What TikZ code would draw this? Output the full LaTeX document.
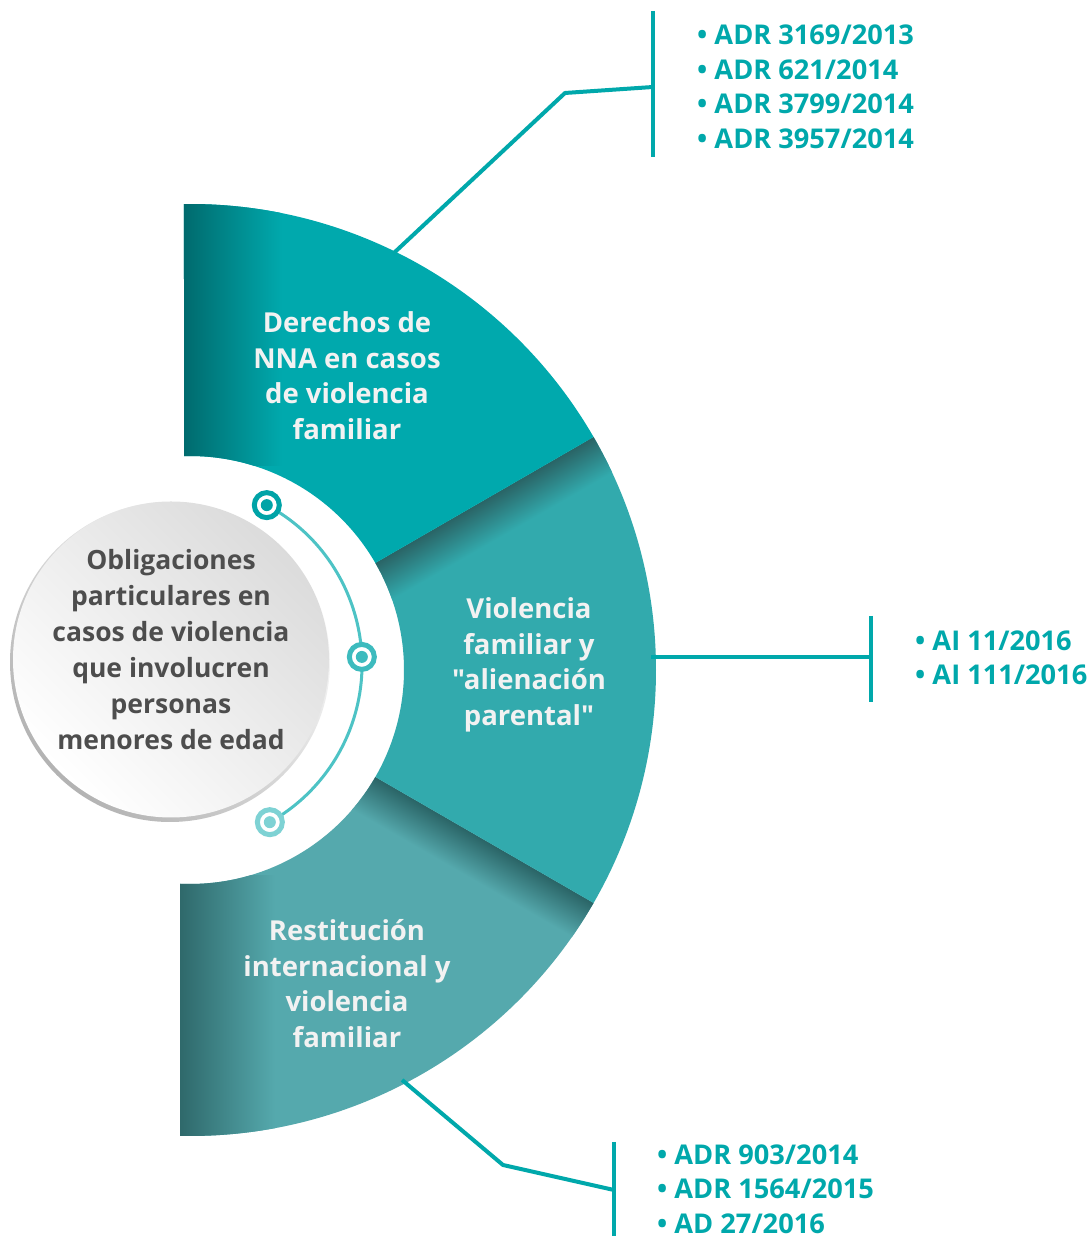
\documentclass[tikz,border=0pt]{standalone}
\usepackage{fontspec}
\newfontfamily\osans{Open Sans}
\usetikzlibrary{calc}

\definecolor{tealA}{HTML}{00A9AD}
\definecolor{tealAdark}{HTML}{006A6D}
\definecolor{tealB}{HTML}{32AAAD}
\definecolor{tealC}{HTML}{55A9AD}
\definecolor{tealCdark}{HTML}{2F696B}
\definecolor{shadowcol}{HTML}{2A6466}
\definecolor{linecol}{HTML}{00A8AB}
\definecolor{dotA}{HTML}{00A3A7}
\definecolor{dotB}{HTML}{3DBBBE}
\definecolor{dotC}{HTML}{7ED2D4}
\definecolor{arccol}{HTML}{4DC3C5}
\definecolor{labelcol}{HTML}{F2F2F2}
\definecolor{coretext}{HTML}{4D4D4D}

% ring geometry: centre (190,566), outer radius 466, inner radius 214
\def\topsector{($(190,566)+(90.74:466)$) arc[start angle=90.74, end angle=30, radius=466]
  -- ($(190,566)+(30:214)$) arc[start angle=30, end angle=91.6, radius=214] -- cycle}
\def\midsector{($(190,566)+(30:466)$) arc[start angle=30, end angle=-30, radius=466]
  -- ($(190,566)+(-30:214)$) arc[start angle=-30, end angle=30, radius=214] -- cycle}
\def\botsector{($(190,566)+(-30:466)$) arc[start angle=-30, end angle=-91.23, radius=466]
  -- ($(190,566)+(-92.68:214)$) arc[start angle=-92.68, end angle=-30, radius=214] -- cycle}

\begin{document}
\begin{tikzpicture}[x=1pt,y=1pt,
  sectorlabel/.style={text=labelcol, font=\osans\fontsize{27.5}{35.5}\selectfont\bfseries,
    align=center, inner sep=0pt},
  reflist/.style={text=linecol, font=\osans\fontsize{27.2}{34.5}\selectfont\bfseries,
    align=left, anchor=west, inner sep=0pt},
  leader/.style={draw=linecol, line width=4pt},
  bar/.style={draw=linecol, line width=4.5pt},
  dotring/.style={circle, draw=#1, line width=5pt, fill=white,
    minimum size=25pt, inner sep=0pt},
]
\useasboundingbox (0,0) rectangle (1091,1236);
\fill[white] (0,0) rectangle (1091,1236);

% ---- bottom sector
\fill[tealC] \botsector;
\begin{scope}
  \clip \botsector;
  \shade[left color=tealCdark, right color=tealC] (180,90) rectangle (275,360);
  \begin{scope}[transform canvas={shift={(190,566)}, rotate=-30}]
    \shade[top color=shadowcol, bottom color=tealC] (200,-40) rectangle (480,0);
  \end{scope}
\end{scope}

% ---- middle sector
\fill[tealB] \midsector;
\begin{scope}
  \clip \midsector;
  \begin{scope}[transform canvas={shift={(190,566)}, rotate=30}]
    \shade[top color=shadowcol, bottom color=tealB] (200,-40) rectangle (480,0);
  \end{scope}
\end{scope}

% ---- top sector
\fill[tealA] \topsector;
\begin{scope}
  \clip \topsector;
  \shade[left color=tealAdark, right color=tealA] (183,770) rectangle (282,1040);
\end{scope}

% ---- sector labels
\node[sectorlabel] (s1) at (347,860.5) {Derechos de\\NNA en casos\\de violencia\\familiar};
\node[sectorlabel] (s2) at (529,571) {Violencia\\familiar y\\"alienación\\parental"};
\node[sectorlabel] (s3) at (347,252.5) {Restitución\\internacional y\\violencia\\familiar};

% ---- central disc
\shade[top color=white, bottom color=black!30, shading angle=-45] (170,574) circle[radius=160];
\shade[top color=black!14, bottom color=white, shading angle=-45] (171,576.5) circle[radius=158];
\node[text=coretext, font=\osans\fontsize{26.5}{36}\selectfont\bfseries, align=center,
  inner sep=0pt] (core) at (171,586)
  {Obligaciones\\particulares en\\casos de violencia\\que involucren\\personas\\menores de edad};

% ---- arc with three markers
\coordinate (A) at (181,571.5);
\draw[arccol, line width=3pt] ($(A)+(61.7:181)$) arc[start angle=61.7, end angle=-60.6, radius=181];
\node[dotring=dotA] (d1) at ($(A)+(61.7:181)$) {};
\node[dotring=dotB] (d2) at ($(A)+(2.4:181)$) {};
\node[dotring=dotC] (d3) at ($(A)+(-60.6:181)$) {};
\fill[dotA] (d1) circle[radius=6];
\fill[dotB] (d2) circle[radius=6];
\fill[dotC] (d3) circle[radius=6];

% ---- leader 1 (top sector)
\coordinate (a1) at ($(190,566)+(64:463)$);
\coordinate (a1b) at (565,1143);
\coordinate (a1j) at (653,1149);
\coordinate (bar1t) at (653,1225);
\coordinate (bar1b) at (653,1079);
\draw[leader, line join=round] (a1) -- (a1b) -- (a1j);
\draw[bar] (bar1t) -- (bar1b);
\node[reflist] (L1) at (697,1149.25)
  {• ADR 3169/2013\\• ADR 621/2014\\• ADR 3799/2014\\• ADR 3957/2014};

% ---- leader 2 (middle sector)
\coordinate (a2) at (651,579);
\coordinate (a2j) at (871,579);
\coordinate (bar2t) at (871,620);
\coordinate (bar2b) at (871,534);
\draw[leader] (a2) -- (a2j);
\draw[bar] (bar2t) -- (bar2b);
\node[reflist] (L2) at (915,578) {• AI 11/2016\\• AI 111/2016};

% ---- leader 3 (bottom sector)
\coordinate (a3) at ($(190,566)+(-62.65:461.6)$);
\coordinate (a3b) at (503,71);
\coordinate (a3j) at (614,46);
\coordinate (bar3t) at (614,94);
\coordinate (bar3b) at (614,0);
\draw[leader, line join=round] (a3) -- (a3b) -- (a3j);
\draw[bar] (bar3t) -- (bar3b);
\node[reflist] (L3) at (657,47) {• ADR 903/2014\\• ADR 1564/2015\\• AD 27/2016};
\end{tikzpicture}
\end{document}
